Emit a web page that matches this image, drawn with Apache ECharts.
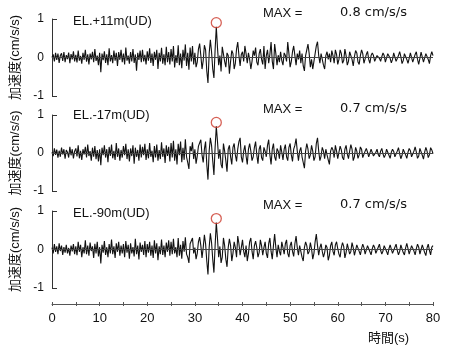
<!DOCTYPE html>
<html>
<head>
<meta charset="utf-8">
<script src="https://cdn.jsdelivr.net/npm/echarts@6/dist/echarts.min.js"></script>
<style>
  html, body { margin: 0; padding: 0; background: #fff; }
  #chart { width: 458px; height: 354px; }
</style>
</head>
<body>
<div id="chart"></div>
<script>
// Vertical (UD) acceleration records at three depths, sampled every 0.25 s.
const DT = 0.25;           // sample interval (s)
const T_MIN = 0;
const T_MAX = 80;

const stationNames = ['EL.+11m(UD)', 'EL.-17m(UD)', 'EL.-90m(UD)'];
const maxTexts = ['0.8 cm/s/s', '0.7 cm/s/s', '0.7 cm/s/s'];
const yTickValues = [-1, 0, 1];
const xTickStep = 10;

// EL.+11m
const accEL11 = [
  0, 0.08, -0.1, 0.12, -0.06, 0.1, -0.14, 0.05, 0.11, -0.09, 0.14, -0.12, 0.06, -0.04, 0.13, -0.15, 0.09, -0.05, 0.16, -0.1,
  0.07, -0.13, 0.18, -0.08, 0.04, -0.16, 0.12, -0.06, 0.2, -0.11, 0.08, -0.18, 0.1, -0.05, 0.15, -0.12, 0.22, -0.09, 0.05, -0.2,
  0.12, -0.38, 0.1, -0.07, 0.16, -0.14, 0.08, -0.2, 0.24, -0.1, 0.06, -0.15, 0.18, -0.08, 0.12, -0.22, 0.14, -0.06, 0.2, -0.12,
  0.1, -0.18, 0.26, -0.08, 0.05, -0.16, 0.14, -0.1, 0.22, -0.14, 0.08, -0.34, 0.12, -0.06, 0.18, -0.12, 0.2, -0.1, 0.07, -0.18,
  0.16, -0.08, 0.24, -0.14, 0.1, -0.22, 0.15, -0.06, 0.2, -0.3, 0.12, -0.1, 0.25, -0.16, 0.08, -0.2, 0.28, -0.12, 0.14, -0.18,
  0.22, -0.1, 0.3, -0.26, 0.06, -0.14, 0.32, -0.2, 0.1, -0.28, 0.2, -0.08, 0.34, -0.22, 0.12, -0.32, 0.26, -0.1, 0.3, -0.18,
  0.12, -0.25, -0.12, 0.22, 0.36, 0.05, -0.3, -0.08, 0.32, 0.2, -0.35, -0.66, 0.1, 0.46, 0.15, -0.3, -0.53, 0.2, 0.8, 0.25,
  -0.2, 0.05, -0.36, 0.28, 0.3, -0.1, -0.25, 0.12, 0.05, -0.42, -0.1, 0.18, 0.1, -0.3, -0.15, 0.22, 0.4, 0.05, -0.22, 0.08,
  0.15, -0.1, 0.3, 0.1, -0.15, 0.12, -0.05, -0.3, -0.1, 0.18, 0.05, 0.26, -0.12, -0.2, 0.1, 0.22, -0.05, -0.18, 0.3, -0.3,
  0.05, 0.2, -0.15, 0.08, 0.4, -0.1, -0.3, 0.35, 0.1, -0.2, 0.06, -0.12, 0.15, -0.08, -0.2, 0.12, 0.05, -0.1, 0.4, 0.1,
  -0.25, -0.1, 0.15, 0.3, 0.05, -0.2, 0.1, -0.05, 0.18, -0.15, 0.1, -0.22, -0.35, 0.05, 0.2, 0.35, 0.1, -0.25, -0.05, -0.3,
  -0.3, 0.1, 0.3, 0.41, 0.05, -0.15, 0.1, -0.05, -0.2, -0.3, 0.05, 0.15, -0.05, 0.1, -0.12, 0.18, 0.05, -0.15, 0.2, 0.08,
  -0.18, -0.05, 0.2, 0.1, -0.15, -0.08, 0.22, 0.05, -0.2, -0.1, 0.15, 0.2, -0.05, -0.22, 0.02, 0.18, 0.12, -0.12, -0.18, 0.05,
  0.2, 0.1, -0.15, -0.12, 0.08, 0.16, -0.05, -0.15, 0.05, 0.12, 0.05, -0.1, -0.12, 0.05, 0.1, -0.02, -0.1, 0.02, 0.12, 0.05,
  -0.12, -0.08, 0.1, 0.15, -0.02, -0.14, -0.05, 0.12, 0.1, -0.1, -0.15, 0.05, 0.15, 0.02, -0.16, -0.08, 0.1, 0.14, -0.05, -0.15,
  -0.02, 0.12, 0.08, -0.12, -0.1, 0.08, 0.15, -0.05, -0.18, -0.02, 0.14, 0.1, -0.12, -0.14, 0.1, 0.12, -0.05, -0.16, 0.05, 0.15,
  0.05
];

// EL.-17m
const accEL17 = [
  0.02, -0.08, 0.12, -0.05, 0.09, -0.12, 0.06, -0.1, 0.14, -0.04, 0.1, -0.15, 0.08, 0.02, -0.12, 0.16, -0.06, 0.1, -0.14, 0.05,
  0.12, -0.09, 0.2, -0.14, 0.06, -0.18, 0.1, -0.04, 0.16, -0.12, 0.22, -0.08, 0.05, -0.2, 0.14, -0.1, 0.18, -0.16, 0.08, -0.22,
  0.1, -0.32, 0.14, -0.06, 0.2, -0.12, 0.1, -0.24, 0.16, -0.08, 0.22, -0.14, 0.06, -0.18, 0.26, -0.1, 0.12, -0.2, 0.08, -0.12,
  0.18, -0.06, 0.24, -0.16, 0.1, -0.22, 0.12, -0.08, 0.2, -0.28, 0.14, -0.1, 0.08, -0.2, 0.22, -0.12, 0.16, -0.06, 0.24, -0.18,
  0.1, -0.14, 0.26, -0.1, 0.06, -0.24, 0.18, -0.12, 0.22, -0.2, 0.08, -0.16, 0.28, -0.1, 0.12, -0.26, 0.2, -0.08, 0.16, -0.22,
  0.26, -0.12, 0.32, -0.2, 0.1, -0.3, 0.24, -0.06, 0.3, -0.24, 0.14, -0.18, 0.36, -0.1, -0.25, -0.42, 0.18, 0.05, 0.28, -0.16,
  0.1, -0.28, -0.08, 0.18, 0.2, 0.35, -0.05, -0.25, 0.1, 0.3, -0.3, -0.7, 0.05, 0.4, 0.2, -0.2, -0.58, 0.15, 0.7, 0.3,
  -0.15, 0.1, -0.3, -0.4, 0.25, 0.05, -0.2, -0.49, 0.1, 0.2, -0.1, -0.3, 0.15, 0.25, -0.05, -0.22, 0.1, 0.3, 0.4, -0.1,
  -0.25, 0.05, 0.2, -0.08, -0.3, 0.1, 0.25, 0.05, -0.2, -0.1, 0.15, 0.3, -0.05, -0.28, 0.1, 0.2, -0.12, -0.2, 0.15, 0.05,
  -0.1, 0.2, 0.35, -0.05, -0.3, 0.1, 0.25, -0.1, -0.2, 0.12, 0.05, -0.15, 0.2, 0.02, -0.18, 0.1, 0.22, -0.1, -0.2, 0.15,
  0.25, -0.05, -0.22, 0.1, 0.2, 0.38, 0.05, -0.2, 0.05, 0.15, -0.1, -0.25, -0.4, 0.05, 0.25, 0.1, -0.15, -0.05, 0.2, 0.05,
  -0.2, -0.1, 0.25, 0.4, 0.05, -0.2, -0.08, 0.15, 0.05, -0.15, 0.1, -0.05, -0.18, -0.3, 0.05, 0.15, 0.08, -0.12, 0.2, 0.05,
  -0.15, 0.02, 0.18, 0.08, -0.12, -0.18, 0.1, 0.2, -0.02, -0.15, 0.05, 0.22, 0.1, -0.2, -0.1, 0.15, 0.05, -0.14, -0.05, 0.16,
  0.1, -0.12, -0.15, 0.05, 0.12, 0.02, -0.1, -0.06, 0.1, 0.08, -0.08, -0.12, 0.02, 0.1, -0.04, -0.1, 0.05, 0.12, -0.02, -0.12,
  -0.05, 0.1, 0.12, -0.06, -0.14, 0.02, 0.1, 0.04, -0.1, -0.12, 0.05, 0.14, -0.02, -0.15, -0.06, 0.1, 0.15, -0.05, -0.14, 0.02,
  0.12, 0.06, -0.1, -0.12, 0.05, 0.16, 0.02, -0.14, -0.08, 0.12, 0.14, -0.06, -0.16, 0.02, 0.15, 0.05, -0.12, -0.05, 0.14, 0.08,
  -0.02
];

// EL.-90m
const accEL90 = [
  0.05, -0.1, 0.14, -0.06, 0.08, -0.12, 0.16, -0.04, 0.1, -0.14, 0.06, -0.08, 0.12, -0.1, 0.04, -0.16, 0.1, -0.05, 0.14, -0.12,
  0.08, -0.15, 0.2, -0.06, 0.12, -0.2, 0.06, -0.1, 0.24, -0.12, 0.1, -0.16, 0.18, -0.04, 0.08, -0.22, 0.15, -0.1, 0.2, -0.18,
  0.06, -0.36, 0.12, -0.08, 0.22, -0.14, 0.06, -0.2, 0.14, -0.1, 0.26, -0.12, 0.08, -0.22, 0.16, -0.06, 0.2, -0.16, 0.1, -0.1,
  0.14, -0.2, 0.22, -0.08, 0.12, -0.24, 0.16, -0.1, 0.06, -0.18, 0.28, -0.12, 0.1, -0.26, 0.18, -0.06, 0.12, -0.14, 0.22, -0.2,
  0.14, -0.08, 0.2, -0.16, 0.1, -0.22, 0.24, -0.1, 0.16, -0.28, 0.08, -0.12, 0.26, -0.14, 0.1, -0.2, 0.18, -0.06, 0.24, -0.16,
  0.2, -0.12, 0.28, -0.1, 0.06, -0.2, 0.3, -0.16, 0.12, -0.24, 0.22, -0.06, 0.32, -0.12, -0.2, -0.35, 0.15, 0.1, 0.3, -0.1,
  0.05, -0.25, -0.1, 0.2, 0.32, 0.1, -0.22, 0.05, 0.38, 0.15, -0.3, -0.65, 0.05, 0.42, 0.18, -0.25, -0.6, 0.1, 0.7, 0.28,
  -0.2, 0.08, -0.35, -0.2, 0.3, 0.1, -0.25, -0.45, 0.05, 0.28, 0.1, -0.3, -0.1, 0.2, 0.05, -0.2, 0.35, 0.15, -0.15, 0.05,
  0.25, -0.05, -0.2, 0.1, -0.3, -0.1, 0.2, 0.3, -0.05, -0.25, 0.1, 0.22, 0.05, -0.2, -0.08, 0.25, 0.1, -0.15, 0.05, 0.2,
  -0.1, -0.22, 0.15, 0.3, -0.05, -0.25, 0.1, 0.4, 0.05, -0.2, 0.12, -0.05, -0.15, 0.2, 0.05, -0.12, 0.15, 0.25, -0.1, -0.2,
  0.1, 0.2, -0.05, -0.18, 0.15, 0.35, 0.05, -0.15, 0.1, -0.05, -0.2, -0.3, 0.05, 0.2, 0.1, -0.12, -0.05, 0.18, 0.02, -0.25,
  -0.1, 0.2, 0.4, 0.1, -0.15, 0.05, 0.15, -0.05, -0.2, -0.08, 0.12, 0.05, -0.28, -0.15, 0.1, 0.2, -0.05, -0.15, 0.12, 0.2,
  0.02, -0.12, -0.2, 0.05, 0.18, 0.08, -0.22, -0.08, 0.15, 0.1, -0.12, -0.05, 0.18, 0.05, -0.15, -0.1, 0.12, 0.16, -0.05, -0.14,
  0.02, 0.14, 0.05, -0.12, -0.08, 0.1, 0.12, -0.06, -0.14, 0.02, 0.12, 0.05, -0.1, -0.12, 0.06, 0.14, -0.02, -0.12, -0.04, 0.1,
  0.12, -0.05, -0.14, 0.02, 0.12, 0.08, -0.1, -0.12, 0.06, 0.14, -0.02, -0.14, -0.05, 0.12, 0.1, -0.08, -0.14, 0.04, 0.16, 0.02,
  -0.12, -0.1, 0.1, 0.12, -0.04, -0.14, 0.02, 0.14, 0.06, -0.12, -0.08, 0.12, 0.1, -0.08, -0.16, 0.04, 0.14, -0.02, -0.14, 0.06,
  0.1
];

const records = [accEL11, accEL17, accEL90];

const FONT = "'Liberation Sans', 'Noto Sans CJK JP', sans-serif";
const VALUE_FONT = "'DejaVu Sans', 'Liberation Sans', sans-serif";
const INK = '#111';
const CIRCLE_RED = '#cc3a2c';

const gridLayout = [
  { top: 19, height: 77 },
  { top: 115, height: 76 },
  { top: 211, height: 77 }
];

const grids = gridLayout.map(g => ({ left: 52, right: 25, top: g.top, height: g.height }));

const xAxes = [];
const yAxes = [];
const series = [];

records.forEach((rec, i) => {
  // hidden x axis used only for scaling each panel
  xAxes.push({
    type: 'value', gridIndex: i, min: T_MIN, max: T_MAX, show: false
  });
  yAxes.push({
    type: 'value', gridIndex: i, min: yTickValues[0], max: yTickValues[yTickValues.length - 1], interval: 1,
    axisLine: { show: true, lineStyle: { color: '#333', width: 1 } },
    axisTick: { show: true, inside: true, length: 5, lineStyle: { color: '#333' } },
    axisLabel: { margin: 8, fontSize: 12, color: INK, fontFamily: FONT },
    splitLine: { show: false },
    name: '加速度(cm/s/s)', nameLocation: 'middle', nameRotate: 90, nameGap: 30,
    nameTextStyle: { fontSize: 13, color: INK, fontFamily: FONT }
  });

  const data = rec.map((v, k) => [T_MIN + k * DT, v]);
  let peakIdx = 0;
  rec.forEach((v, k) => { if (v > rec[peakIdx]) peakIdx = k; });

  series.push({
    type: 'line', xAxisIndex: i, yAxisIndex: i, data: data,
    showSymbol: false, symbol: 'none', silent: true, animation: false,
    lineStyle: { color: INK, width: 1.1 },
    markLine: {
      silent: true, symbol: ['none', 'none'], label: { show: false },
      lineStyle: { color: '#444', width: 1, type: 'solid' },
      data: [{ yAxis: 0 }], animation: false
    },
    z: 3
  });
  // red circle marking the peak acceleration
  series.push({
    type: 'scatter', xAxisIndex: i, yAxisIndex: i,
    data: [data[peakIdx]],
    symbol: 'circle', symbolSize: 10, symbolOffset: [0, -4],
    itemStyle: { color: 'rgba(0,0,0,0)', borderColor: CIRCLE_RED, borderWidth: 1.3 },
    silent: true, animation: false, z: 5
  });
});

// time axis under the bottom panel: ticks crossing the line
xAxes.push({
  type: 'value', gridIndex: 2, min: T_MIN, max: T_MAX, interval: 5,
  position: 'bottom', offset: 16,
  axisLine: { show: true, onZero: false, lineStyle: { color: '#555', width: 1 } },
  axisTick: { show: true, inside: true, length: 2, lineStyle: { color: '#555' } },
  axisLabel: {
    margin: 8, fontSize: 13, color: INK, fontFamily: FONT,
    formatter: v => (v % xTickStep === 0 ? String(v) : '')
  },
  splitLine: { show: false }
});
xAxes.push({
  type: 'value', gridIndex: 2, min: T_MIN, max: T_MAX, interval: 5,
  position: 'bottom', offset: 16,
  axisLine: { show: false, onZero: false },
  axisTick: { show: true, inside: false, length: 2, lineStyle: { color: '#555' } },
  axisLabel: { show: false },
  splitLine: { show: false }
});

const stationY = [21, 115, 213];
const maxY = [13, 109, 205];
const graphics = [];
stationNames.forEach((name, i) => {
  graphics.push({
    type: 'text', x: 73, y: stationY[i], silent: true,
    style: { text: name, font: '13px ' + FONT, fill: INK, align: 'left', verticalAlign: 'middle' }
  });
  graphics.push({
    type: 'text', x: 263, y: maxY[i], silent: true,
    style: { text: 'MAX =', font: '13px ' + FONT, fill: INK, align: 'left', verticalAlign: 'middle' }
  });
  graphics.push({
    type: 'text', x: 340, y: maxY[i], silent: true,
    style: { text: maxTexts[i], font: '13px ' + VALUE_FONT, fill: INK, align: 'left', verticalAlign: 'middle' }
  });
});
graphics.push({
  type: 'text', x: 368, y: 338, silent: true,
  style: { text: '時間(s)', font: '13px ' + FONT, fill: INK, align: 'left', verticalAlign: 'middle' }
});

const chart = echarts.init(document.getElementById('chart'), null, { renderer: 'canvas' });
chart.setOption({
  animation: false,
  backgroundColor: '#fff',
  grid: grids,
  xAxis: xAxes,
  yAxis: yAxes,
  series: series,
  graphic: graphics
});
</script>
</body>
</html>
